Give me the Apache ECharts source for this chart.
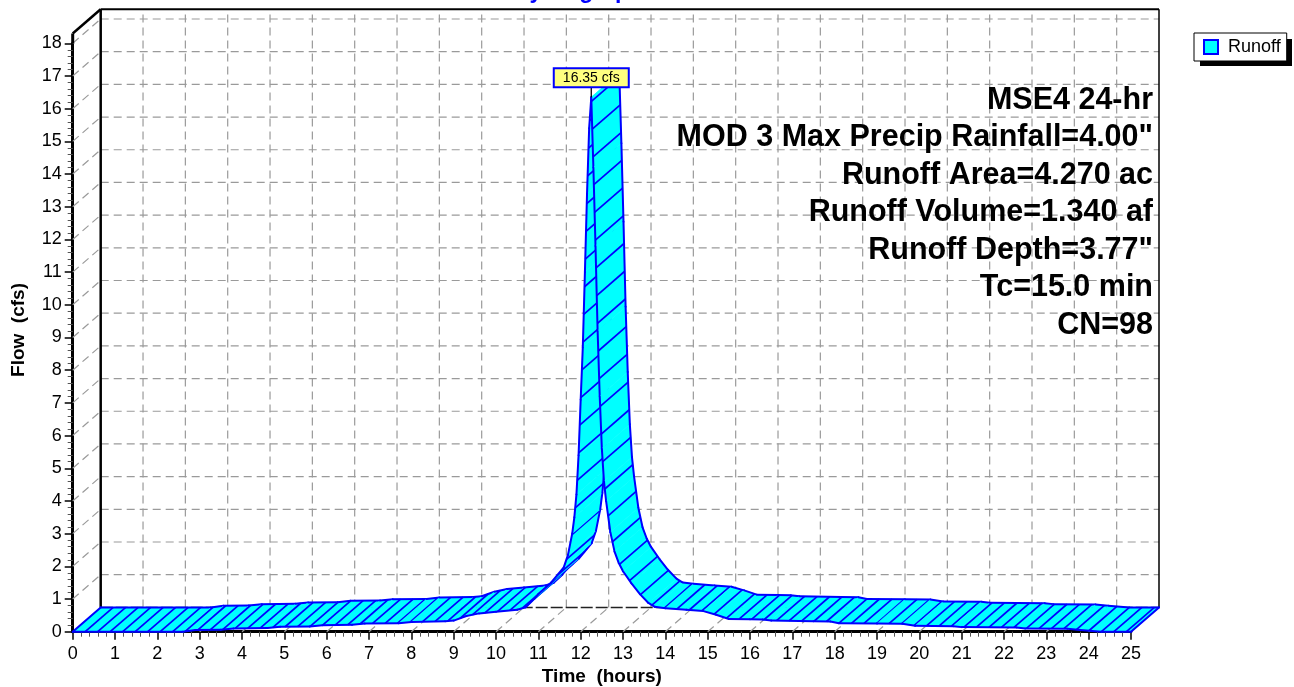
<!DOCTYPE html>
<html><head><meta charset="utf-8">
<script src="https://cdn.jsdelivr.net/npm/echarts@6/dist/echarts.min.js"></script>
<style>html,body{margin:0;padding:0;background:#fff}#c{width:1294px;height:687px}</style>
</head><body><div id="c"></div>
<script>
// ---- data ----
const times = [0, 2.6, 2.9, 3.5, 3.8, 4.6, 4.9, 5.6, 5.9, 6.6, 6.9, 7.7, 8.0, 8.8, 9.0, 9.3, 9.6, 10.0, 10.5, 10.7,
  10.9, 11.0, 11.3, 11.6, 11.7, 11.8, 11.85, 11.9, 11.95, 12.0, 12.05, 12.1, 12.15, 12.2, 12.25, 12.3, 12.35, 12.4, 12.45, 12.5,
  12.55, 12.6, 12.7, 12.8, 12.9, 13.0, 13.2, 13.4, 13.6, 13.75, 14.0, 14.5, 14.9, 15.2, 15.5, 16.0, 16.3, 16.5, 17.5, 17.9,
  18.1, 19.0, 19.6, 19.9, 20.8, 21.0, 22.3, 22.5, 23.5, 23.8, 24.3, 25.0];
const flows = [0, 0, 0.05, 0.06, 0.10, 0.11, 0.15, 0.16, 0.20, 0.21, 0.25, 0.26, 0.30, 0.32, 0.34, 0.48, 0.56, 0.61, 0.67, 0.75,
  1.0, 1.15, 1.5, 1.97, 2.35, 3.0, 3.5, 4.2, 5.4, 7.1, 8.7, 11.0, 13.4, 15.4, 16.35, 14.2, 11.8, 9.2, 7.2, 5.6,
  4.6, 4.0, 3.05, 2.45, 2.1, 1.85, 1.48, 1.15, 0.88, 0.76, 0.72, 0.67, 0.63, 0.52, 0.39, 0.38, 0.37, 0.34, 0.32, 0.31,
  0.26, 0.25, 0.24, 0.18, 0.17, 0.14, 0.13, 0.10, 0.09, 0.05, 0.0, 0.0];
const xTickLabels = [0,1,2,3,4,5,6,7,8,9,10,11,12,13,14,15,16,17,18,19,20,21,22,23,24,25];
const yTickLabels = [0,1,2,3,4,5,6,7,8,9,10,11,12,13,14,15,16,17,18];
const peakTime = 12.25, peakFlow = 16.35;
const infoLines = ['MSE4 24-hr', 'MOD 3 Max Precip Rainfall=4.00"', 'Runoff Area=4.270 ac',
  'Runoff Volume=1.340 af', 'Runoff Depth=3.77"', 'Tc=15.0 min', 'CN=98'];
const titleText = 'Hydrograph';
const seriesName = 'Runoff';

// ---- styling constants ----
const FONT = '"Liberation Sans", Arial, Helvetica, sans-serif';
const DX = 28, DY = -24.3;      // 3D depth offset (px)
const Y_TOP = 18.3;             // top of the walls (data units)
const HATCH = 12.5, HATCH_K = 0.45;

const segData = [];
for (let i = 0; i < times.length - 1; i++) segData.push([times[i], flows[i], times[i + 1], flows[i + 1]]);

function ln(p, q, style) { return {type: 'line', shape: {x1: p[0], y1: p[1], x2: q[0], y2: q[1]}, style: style}; }
function back(p) { return [p[0] + DX, p[1] + DY]; }
const gridStyle = () => ({stroke: '#9a9a9a', lineWidth: 1.2, lineDash: [8, 5]});

let phase = 0;
function ribbonItem(params, api) {
  if (params.dataIndex === 0) phase = 0;
  const a = api.coord([api.value(0), api.value(1)]);
  const b = api.coord([api.value(2), api.value(3)]);
  const a2 = back(a), b2 = back(b);
  const ch = [{type: 'polygon', shape: {points: [a, b, b2, a2]}, style: {fill: '#00ffff', stroke: '#00ffff', lineWidth: 0.6}}];
  const dx = b[0] - a[0], dy = b[1] - a[1];
  const L = Math.sqrt(dx * dx + HATCH_K * HATCH_K * dy * dy);
  let u = HATCH - phase;
  while (u < L) {
    const f = u / L, p = [a[0] + dx * f, a[1] + dy * f];
    ch.push(ln(p, back(p), {stroke: '#0000ff', lineWidth: 1.7}));
    u += HATCH;
  }
  phase = (phase + L) % HATCH;
  const es = () => ({stroke: '#0000ff', lineWidth: 2, lineCap: 'round'});
  ch.push(ln(a, b, es()));
  ch.push(ln(a2, b2, es()));
  if (params.dataIndex === 0) ch.push(ln(a, a2, es()));
  if (params.dataIndex === segData.length - 1) ch.push(ln(b, b2, es()));
  return {type: 'group', children: ch};
}

function hGridItem(params, api) {
  const v = api.value(1);
  if (v === 0) return {type: 'group', children: []};
  const p = api.coord([0, v]), q = api.coord([xTickLabels[xTickLabels.length - 1], v]);
  return {type: 'group', children: [ln(back(p), back(q), gridStyle()), ln(p, back(p), gridStyle())]};
}
function vGridItem(params, api) {
  const t = api.value(0);
  if (t === 0 || t === xTickLabels[xTickLabels.length - 1]) return {type: 'group', children: []};
  const p = api.coord([t, 0]), q = api.coord([t, Y_TOP]);
  return {type: 'group', children: [ln(back(p), back(q), gridStyle()), ln(p, back(p), gridStyle())]};
}
function frameItem(params, api) {
  const xMax = xTickLabels[xTickLabels.length - 1];
  const o = api.coord([0, 0]), top = api.coord([0, Y_TOP]), y18 = api.coord([0, yTickLabels[yTickLabels.length - 1]]);
  const r0 = api.coord([xMax, 0]), rt = api.coord([xMax, Y_TOP]);
  return {type: 'group', children: [
    ln(back(o), back(r0), {stroke: '#222', lineWidth: 1.5, lineDash: [12, 3]}),
    ln(back(o), back(top), {stroke: '#000', lineWidth: 2.5}),
    ln(back(top), back(rt), {stroke: '#000', lineWidth: 2}),
    ln(back(rt), back(r0), {stroke: '#000', lineWidth: 1.5}),
    ln(top, back(top), {stroke: '#000', lineWidth: 2.5}),
    ln(y18, top, {stroke: '#000', lineWidth: 3})
  ]};
}
function peakItem(params, api) {
  const p = api.coord([api.value(0), api.value(1)]);
  const label = api.value(1).toFixed(2) + ' cfs';
  return {type: 'group', children: [
    ln(p, [p[0], p[1] - 10], {stroke: '#000', lineWidth: 1.3}),
    {type: 'rect', shape: {x: p[0] - 37.5, y: p[1] - 29, width: 75, height: 19}, style: {fill: '#ffff80', stroke: '#0000ff', lineWidth: 2}},
    {type: 'text', style: {x: p[0], y: p[1] - 19.3, text: label, align: 'center', verticalAlign: 'middle', font: '14px ' + FONT, fill: '#000'}}
  ]};
}

const axisCommon = {
  type: 'value', interval: 1,
  axisLine: {show: true, onZero: false, lineStyle: {color: '#000', width: 3}},
  axisTick: {show: true, length: 8, lineStyle: {color: '#000', width: 1.5}},
  minorTick: {show: true, splitNumber: 5, length: 5, lineStyle: {color: '#555', width: 1}},
  splitLine: {show: false}, minorSplitLine: {show: false}
};

const graphics = [
  {type: 'text', x: 578, y: 3, z: 5, style: {text: titleText, font: 'bold 23px ' + FONT, fill: '#0000ff', align: 'center', verticalAlign: 'bottom'}},
  {type: 'text', x: 19, y: 330, rotation: Math.PI / 2, z: 5, style: {text: 'Flow  (cfs)', font: 'bold 19px ' + FONT, fill: '#000', align: 'center', verticalAlign: 'middle'}},
  {type: 'rect', shape: {x: 1200, y: 39, width: 92, height: 27}, z: 0, style: {fill: '#000'}}
];
infoLines.forEach((s, i) => graphics.push({type: 'text', x: 1153, y: 100.5 + 37.5 * i, z: 5,
  style: {text: s, font: 'bold 30.5px ' + FONT, fill: '#000', align: 'right', verticalAlign: 'middle'}}));

const chart = echarts.init(document.getElementById('c'));
chart.setOption({
  animation: false,
  backgroundColor: '#fff',
  grid: {left: 72.7, top: 43.3, width: 1058.3, height: 588.4, containLabel: false, outerBoundsMode: 'none'},
  xAxis: Object.assign({}, axisCommon, {
    min: xTickLabels[0], max: xTickLabels[xTickLabels.length - 1],
    axisLabel: {margin: 13, color: '#000', fontSize: 18, fontFamily: FONT},
    name: 'Time  (hours)', nameLocation: 'middle', nameGap: 30,
    nameTextStyle: {fontWeight: 'bold', fontSize: 19, color: '#000', fontFamily: FONT}
  }),
  yAxis: Object.assign({}, axisCommon, {
    min: yTickLabels[0], max: yTickLabels[yTickLabels.length - 1],
    axisLabel: {margin: 11, color: '#000', fontSize: 18, fontFamily: FONT}
  }),
  legend: {
    left: 1194, top: 33, padding: [5, 6, 5, 9], itemWidth: 14, itemHeight: 14, z: 10,
    backgroundColor: '#fff', borderColor: '#000', borderWidth: 1, selectedMode: false,
    textStyle: {fontSize: 18, color: '#000', fontFamily: FONT, padding: [0, 0, 0, 5]},
    data: [{name: seriesName, icon: 'rect', itemStyle: {color: '#00ffff', borderColor: '#0000ff', borderWidth: 2}}]
  },
  graphic: graphics,
  series: [
    {type: 'custom', name: 'hgrid', coordinateSystem: 'cartesian2d', silent: true, clip: false, z: 1,
      data: yTickLabels.map(v => [0, v]), renderItem: hGridItem},
    {type: 'custom', name: 'vgrid', coordinateSystem: 'cartesian2d', silent: true, clip: false, z: 1,
      data: xTickLabels.map(t => [t, 0]), renderItem: vGridItem},
    {type: 'custom', name: 'frame', coordinateSystem: 'cartesian2d', silent: true, clip: false, z: 1,
      data: [[0, 0]], renderItem: frameItem},
    {type: 'custom', name: seriesName, coordinateSystem: 'cartesian2d', silent: true, clip: false, z: 2,
      itemStyle: {color: '#00ffff', borderColor: '#0000ff', borderWidth: 2},
      data: segData, renderItem: ribbonItem},
    {type: 'custom', name: 'peak', coordinateSystem: 'cartesian2d', silent: true, clip: false, z: 3,
      data: [[peakTime, peakFlow]], renderItem: peakItem}
  ]
});
</script></body></html>
